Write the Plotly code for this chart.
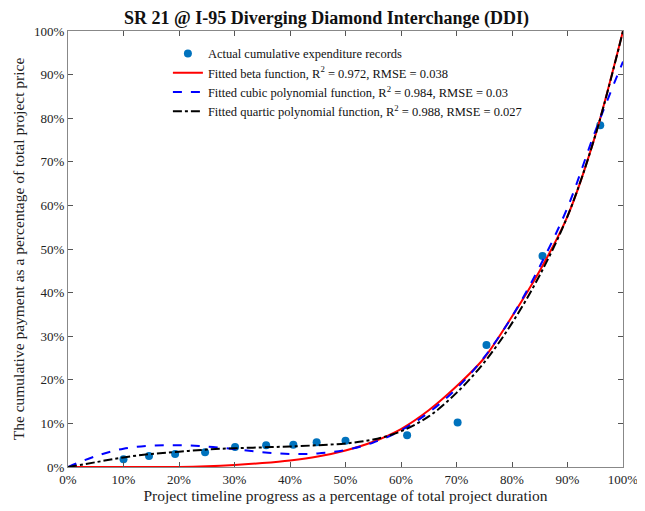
import plotly.graph_objects as go

# Actual records (fractions of duration / price, in %)
obs_x = [10.0, 14.6, 19.3, 24.7, 30.1, 35.7, 40.6, 44.8, 50.0, 61.1, 70.2, 75.4, 85.5, 95.9]
obs_y = [1.8, 2.5, 3.0, 3.4, 4.6, 5.0, 5.1, 5.7, 6.0, 7.3, 10.2, 28.0, 48.4, 78.4]

# Fitted curves
curve_x = [0, 5, 10, 15, 20, 25, 30, 35, 40, 45, 50, 55, 60, 65, 70, 75, 80, 85, 90, 95, 100]
beta_y = [0, 0, 0, 0, 0, 0.15, 0.45, 0.9, 1.5, 2.4, 3.8, 5.8, 8.7, 13.0, 18.5, 25.0, 34.5, 45.0, 57.5, 76.0, 100.0]
cubic_y = [0, 2.5, 4.2, 4.9, 5.0, 4.7, 4.1, 3.4, 3.0, 3.1, 3.9, 5.6, 8.4, 12.5, 18.0, 25.2, 34.5, 46.0, 59.5, 77.0, 93.0]
quartic_y = [0, 1.1, 2.2, 3.0, 3.5, 4.0, 4.3, 4.5, 4.7, 5.0, 5.4, 6.3, 8.2, 11.6, 17.0, 24.0, 33.0, 44.0, 57.5, 76.0, 100.0]

tick_vals = [0, 10, 20, 30, 40, 50, 60, 70, 80, 90, 100]
tick_text = [f"{v}%" for v in tick_vals]

FONT = "Liberation Serif, Times New Roman, serif"

fig = go.Figure()
fig.add_trace(go.Scatter(x=obs_x, y=obs_y, mode="markers",
                         marker=dict(color="#0072BD", size=8),
                         name="Actual cumulative expenditure records"))
fig.add_trace(go.Scatter(x=curve_x, y=beta_y, mode="lines",
                         line=dict(color="#FF0000", width=2, shape="spline", smoothing=0.8),
                         name="Fitted beta function, R<sup>2</sup> = 0.972, RMSE = 0.038"))
fig.add_trace(go.Scatter(x=curve_x, y=cubic_y, mode="lines",
                         line=dict(color="#0000FF", width=2, dash="dash", shape="spline"),
                         name="Fitted cubic polynomial function, R<sup>2</sup> = 0.984, RMSE = 0.03"))
fig.add_trace(go.Scatter(x=curve_x, y=quartic_y, mode="lines",
                         line=dict(color="#000000", width=2, dash="dashdot", shape="spline"),
                         name="Fitted quartic polynomial function, R<sup>2</sup> = 0.988, RMSE = 0.027"))

axis_common = dict(
    range=[0, 100], tickvals=tick_vals, ticktext=tick_text,
    ticks="inside", ticklen=5, tickcolor="#555555",
    showline=True, linecolor="#888888", linewidth=1, mirror="ticks",
    showgrid=False, zeroline=False, automargin=False,
    tickfont=dict(family=FONT, size=13, color="#222222"),
)

fig.update_layout(
    width=637, height=503,
    margin=dict(l=60, r=22, t=23, b=44),
    paper_bgcolor="white", plot_bgcolor="white",
    font=dict(family=FONT, size=13, color="#222222"),
    title=dict(text="<b>SR 21 @ I-95 Diverging Diamond Interchange (DDI)</b>",
               x=0.5, xanchor="center", y=0.994, yanchor="top",
               font=dict(family=FONT, size=18, color="#111111")),
    xaxis=dict(axis_common, title=dict(text="Project timeline progress as a percentage of total project duration",
                                       font=dict(family=FONT, size=15.5), standoff=2)),
    yaxis=dict(axis_common, title=dict(text="The cumulative payment as a percentage of total project price",
                                       font=dict(family=FONT, size=15.5), standoff=5)),
    legend=dict(x=0.18, y=0.982, xanchor="left", yanchor="top",
                bgcolor="rgba(0,0,0,0)", font=dict(family=FONT, size=12.5, color="#111111"),
                itemwidth=30, tracegroupgap=0),
    showlegend=True,
)

fig.write_html("out.html")
